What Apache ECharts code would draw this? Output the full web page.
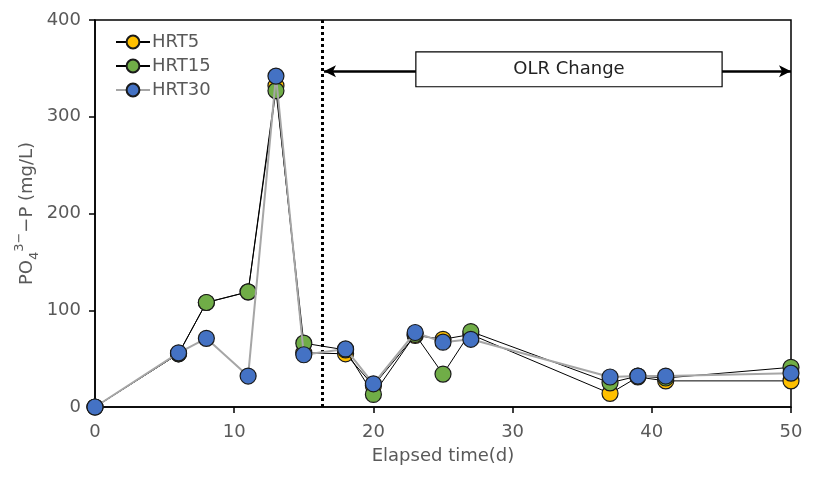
<!DOCTYPE html>
<html>
<head>
<meta charset="utf-8">
<script src="https://cdn.jsdelivr.net/npm/echarts@6/dist/echarts.min.js"></script>
<style>html,body{margin:0;padding:0;background:#fff;}#c{width:815px;height:487px;}</style>
</head>
<body>
<div id="c"></div>
<script>
const days = [0, 6, 8, 11, 13, 15, 18, 20, 23, 25, 27, 37, 39, 41, 50];
const hrt5 = [0, 55, 108, 119, 332, 56, 55, 22, 74, 70, 75, 14, 31, 27, 27];
const hrt15 = [0, 55, 108, 119, 327, 66, 59, 13, 75, 34, 78, 25, 32, 30, 41];
const hrt30 = [0, 56, 71, 32, 342, 54, 60, 24, 77, 67, 70, 31, 32, 32, 35];
const seriesNames = ['HRT5', 'HRT15', 'HRT30'];
const olrLine = 16.3;
const olrBox = { x0: 23.05, x1: 45.05, y0: 331, y1: 367, arrowY: 347 };

const FONT = '"DejaVu Sans", sans-serif';
const GRAY = '#595959';

function mk(name, vals, color, lineColor, lineWidth, z) {
  return {
    name: name,
    type: 'line',
    data: days.map((d, i) => [d, vals[i]]),
    symbol: 'circle',
    symbolSize: 16,
    z: z,
    itemStyle: { color: color, borderColor: '#1a1a1a', borderWidth: 1.2 },
    lineStyle: { color: lineColor, width: lineWidth },
    emphasis: { disabled: true },
    animation: false
  };
}

const s5 = mk(seriesNames[0], hrt5, '#FFC000', '#000000', 1, 3);
const s15 = mk(seriesNames[1], hrt15, '#70AD47', '#000000', 1, 4);
const s30 = mk(seriesNames[2], hrt30, '#4472C4', '#A6A6A6', 2, 5);

s5.markLine = {
  silent: true,
  animation: false,
  symbol: ['none', 'none'],
  label: { show: false },
  data: [
    [{ coord: [olrLine, 0], lineStyle: { type: [3, 3], width: 3, color: '#000' } }, { coord: [olrLine, 400] }],
    [{ coord: [olrBox.x0, olrBox.arrowY], symbol: 'none', lineStyle: { type: 'solid', width: 2.5, color: '#000' } }, { coord: [olrLine + 0.15, olrBox.arrowY], symbol: 'arrow', symbolSize: [9, 12] }],
    [{ coord: [olrBox.x1, olrBox.arrowY], symbol: 'none', lineStyle: { type: 'solid', width: 2.5, color: '#000' } }, { coord: [50, olrBox.arrowY], symbol: 'arrow', symbolSize: [9, 12] }]
  ]
};
s5.markArea = {
  silent: true,
  animation: false,
  itemStyle: { color: '#ffffff', borderColor: '#000', borderWidth: 1.2 },
  label: { show: true, position: 'inside', color: '#222', fontSize: 18, fontFamily: FONT },
  data: [[{ name: 'OLR Change', coord: [olrBox.x0, olrBox.y1] }, { coord: [olrBox.x1, olrBox.y0] }]]
};

const chart = echarts.init(document.getElementById('c'), null, { renderer: 'canvas' });
chart.setOption({
  animation: false,
  backgroundColor: '#fff',
  textStyle: { fontFamily: FONT },
  grid: { left: 95, right: 24, top: 20, bottom: 80, show: true, borderColor: '#000', borderWidth: 1.5, backgroundColor: 'transparent' },
  legend: {
    orient: 'vertical',
    left: 110,
    top: 28,
    itemWidth: 34,
    itemHeight: 16,
    itemGap: 6,
    data: seriesNames,
    textStyle: { color: GRAY, fontSize: 18, fontFamily: FONT, padding: [0, 0, 0, -3] }
  },
  xAxis: {
    type: 'value',
    min: 0, max: 50, interval: 10,
    name: 'Elapsed time(d)',
    nameLocation: 'middle',
    nameGap: 40,
    nameTextStyle: { color: GRAY, fontSize: 18, fontFamily: FONT },
    axisLine: { show: true, lineStyle: { color: '#000', width: 1.5 } },
    axisTick: { show: true, length: 6, lineStyle: { color: '#000', width: 1.5 } },
    axisLabel: { color: GRAY, fontSize: 18, margin: 16, fontFamily: FONT },
    splitLine: { show: false }
  },
  yAxis: {
    type: 'value',
    min: 0, max: 400, interval: 100,
    name: '{n|PO}{sub|4}{sup|3−}{n|−P (mg/L)}',
    nameLocation: 'middle',
    nameRotate: 90,
    nameGap: 54,
    nameMoveOverlap: false,
    nameTextStyle: {
      color: GRAY, fontSize: 18, fontFamily: FONT,
      rich: {
        n: { color: GRAY, fontSize: 18, fontFamily: FONT, lineHeight: 28 },
        sub: { color: GRAY, fontSize: 13, fontFamily: FONT, verticalAlign: 'bottom', lineHeight: 28 },
        sup: { color: GRAY, fontSize: 13, fontFamily: FONT, verticalAlign: 'top', lineHeight: 28 }
      }
    },
    axisLine: { show: true, lineStyle: { color: '#000', width: 1.5 } },
    axisTick: { show: true, length: 6, lineStyle: { color: '#000', width: 1.5 } },
    axisLabel: { color: GRAY, fontSize: 18, margin: 14, fontFamily: FONT },
    splitLine: { show: false }
  },
  series: [s5, s15, s30]
});
</script>
</body>
</html>
